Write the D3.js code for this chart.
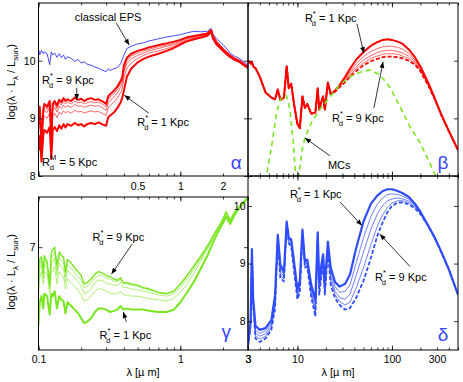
<!DOCTYPE html>
<html><head><meta charset="utf-8">
<script src="https://cdn.jsdelivr.net/npm/d3@7"></script>
<style>body{margin:0;background:#fff}svg{display:block}text{font-family:"Liberation Sans",Arial,sans-serif}</style>
</head><body><svg id="c" width="463" height="382"></svg>
<script>
// ---------------- DATA ----------------
const optWl = [0.100,0.102,0.105,0.108,0.110,0.115,0.120,0.123,0.126,0.130,0.135,0.140,0.145,0.150,0.155,0.160,0.170,0.180,0.190,0.200,0.210,0.220,0.235,0.250,0.265,0.280,0.300,0.310,0.320,0.340,0.360,0.380,0.390,0.400,0.420,0.450,0.500,0.550,0.600,0.700,0.800,0.900,1.00,1.10,1.25,1.40,1.55,1.65,1.70,1.80,2.00,2.10,2.25,2.40,2.60,2.80,3.00];
const epsClassic = [10.20,10.10,10.18,10.12,10.15,10.12,9.93,10.15,10.10,10.13, 10.06,10.12,10.05,10.10,10.02,10.07,10.04,9.99,10.02,9.96, 9.98,9.94,9.92,9.89,9.87,9.84,9.81,9.86,9.83,9.86, 9.88,9.95,10.02,10.10,10.21,10.25,10.29,10.31,10.34,10.38, 10.41,10.43,10.45,10.48,10.51,10.50,10.51,10.56,10.46,10.38, 10.28,10.22,10.13,10.08,10.04,9.98,9.92];
const alphaR1 = [8.45,8.70,8.25,8.70,8.80,8.75,8.85,8.30,8.80,8.85, 8.78,8.88,8.82,8.90,8.84,8.90,8.87,8.92,8.88,8.90, 8.86,8.90,8.92,8.90,8.93,8.90,8.87,9.02,9.05,9.10, 9.18,9.28,9.36,9.48,9.72,9.86,9.97,10.03,10.07,10.12, 10.17,10.22,10.28,10.33,10.37,10.40,10.43,10.50,10.38,10.28, 10.17,10.12,10.06,10.02,9.98,9.92,9.87];
const alphaR3 = [8.70,9.00,8.42,8.95,9.04,9.00,9.09,8.50,9.04,9.09, 9.01,9.11,9.07,9.13,9.09,9.12,9.09,9.14,9.11,9.12, 9.09,9.11,9.13,9.11,9.12,9.09,9.05,9.18,9.22,9.28, 9.35,9.45,9.52,9.70,9.87,9.96,10.04,10.09,10.13,10.17, 10.21,10.25,10.30,10.34,10.38,10.42,10.44,10.51,10.39,10.29, 10.18,10.13,10.07,10.03,9.98,9.92,9.88];
const alphaR5 = [8.80,9.10,8.50,9.05,9.14,9.10,9.19,8.60,9.14,9.19, 9.11,9.21,9.17,9.23,9.19,9.22,9.19,9.24,9.21,9.22, 9.19,9.21,9.23,9.21,9.22,9.19,9.14,9.27,9.31,9.37, 9.44,9.54,9.61,9.80,9.95,10.03,10.09,10.13,10.17,10.21, 10.25,10.28,10.32,10.36,10.40,10.43,10.45,10.52,10.40,10.30, 10.19,10.13,10.07,10.03,9.99,9.93,9.88];
const alphaR7 = [8.85,9.15,8.55,9.10,9.20,9.15,9.25,8.65,9.20,9.25, 9.17,9.27,9.23,9.29,9.25,9.28,9.25,9.30,9.27,9.28, 9.25,9.27,9.29,9.27,9.28,9.25,9.20,9.33,9.37,9.43, 9.50,9.60,9.67,9.86,10.00,10.08,10.13,10.17,10.20,10.24, 10.27,10.30,10.34,10.38,10.41,10.44,10.46,10.52,10.41,10.31, 10.19,10.14,10.08,10.04,9.99,9.93,9.89];
const alphaR9 = [8.90,9.20,8.60,9.15,9.25,9.20,9.30,8.70,9.25,9.30, 9.22,9.32,9.28,9.35,9.30,9.33,9.30,9.36,9.32,9.34, 9.30,9.33,9.35,9.32,9.33,9.30,9.25,9.38,9.42,9.48, 9.55,9.65,9.72,9.92,10.05,10.12,10.17,10.20,10.23,10.27, 10.30,10.33,10.36,10.40,10.43,10.45,10.47,10.53,10.42,10.32, 10.20,10.15,10.09,10.04,10.00,9.94,9.89];

const gammaR1 = [6.36,6.55,6.60,6.50,6.62,6.60,6.45,6.62,6.60,6.64, 6.50,6.60,6.57,6.56,6.46,6.55,6.52,6.49,6.46,6.42, 6.38,6.39,6.42,6.47,6.50,6.50,6.49,6.48,6.47,6.48, 6.49,6.52,6.50,6.49,6.50,6.49,6.49,6.49,6.48,6.47, 6.47,6.49,6.55,6.62,6.72,6.83,6.93,7.00,7.04,7.10, 7.20,7.25,7.19,7.26,7.32,7.36,7.41];
const gammaR3 = [6.60,6.75,6.80,6.70,6.80,6.78,6.62,6.80,6.80,6.84, 6.70,6.80,6.77,6.76,6.66,6.74,6.71,6.68,6.65,6.61, 6.56,6.57,6.60,6.64,6.66,6.66,6.64,6.63,6.62,6.62, 6.62,6.64,6.62,6.61,6.61,6.60,6.60,6.59,6.58,6.57, 6.56,6.58,6.63,6.69,6.79,6.89,6.98,7.04,7.07,7.12, 7.21,7.27,7.20,7.27,7.32,7.36,7.41];
const gammaR5 = [6.66,6.82,6.86,6.75,6.86,6.83,6.66,6.87,6.88,6.91, 6.77,6.87,6.84,6.83,6.72,6.81,6.78,6.75,6.72,6.68, 6.62,6.63,6.66,6.71,6.73,6.73,6.71,6.70,6.70,6.69, 6.69,6.71,6.68,6.67,6.67,6.66,6.65,6.64,6.63,6.61, 6.60,6.62,6.67,6.73,6.82,6.91,6.99,7.05,7.08,7.13, 7.22,7.28,7.21,7.27,7.33,7.37,7.41];
const gammaR7 = [6.71,6.86,6.89,6.78,6.90,6.86,6.68,6.91,6.93,6.96, 6.81,6.92,6.89,6.88,6.76,6.86,6.83,6.79,6.76,6.73, 6.67,6.68,6.71,6.75,6.77,6.77,6.75,6.74,6.74,6.72, 6.72,6.74,6.71,6.70,6.70,6.69,6.68,6.66,6.65,6.63, 6.62,6.64,6.69,6.75,6.84,6.92,7.00,7.06,7.09,7.14, 7.23,7.29,7.22,7.28,7.33,7.37,7.41];
const gammaR9 = [6.75,6.90,6.92,6.80,6.93,6.88,6.70,6.95,6.98,7.00, 6.85,6.96,6.93,6.92,6.80,6.90,6.87,6.83,6.80,6.77, 6.70,6.71,6.74,6.78,6.80,6.79,6.77,6.76,6.76,6.74, 6.73,6.75,6.72,6.71,6.71,6.70,6.69,6.67,6.66,6.63, 6.62,6.64,6.70,6.76,6.85,6.93,7.01,7.06,7.09,7.14, 7.23,7.29,7.22,7.28,7.33,7.37,7.41];

const irWl = [3.0,3.2,3.3,3.4,3.6,4.0,4.6,5.3,5.8,6.2,6.6,7.2,7.7,8.1,8.6,9.2,10.0,10.6,11.3,12.0,12.7,14.0,15.5,16.4,17.0,18.0,18.7,19.5,21.0,22.5,25,28,32,36,42,50,60,70,80,90,100,115,130,150,175,200,240,280,330,400,500];
const betaR1 = [10.00,9.95,9.98,9.90,9.87,9.72,9.45,9.36,9.33,9.50, 9.32,9.36,9.90,9.52,9.60,9.25,8.90,8.83,9.38,9.18, 9.25,9.08,9.10,9.52,9.15,9.30,9.38,9.15,9.62,9.42, 9.48,9.58,9.72,9.86,10.02,10.15,10.26,10.32,10.36,10.37, 10.36,10.33,10.29,10.20,10.06,9.90,9.63,9.37,9.08,8.78,8.45];
const betaR3 = [10.00,9.95,9.98,9.90,9.87,9.72,9.45,9.36,9.33,9.50, 9.32,9.36,9.90,9.52,9.60,9.25,8.90,8.83,9.38,9.18, 9.25,9.08,9.10,9.52,9.15,9.30,9.38,9.15,9.62,9.42, 9.48,9.57,9.69,9.81,9.95,10.07,10.16,10.21,10.24,10.25, 10.25,10.23,10.20,10.13,10.01,9.87,9.61,9.36,9.08,8.78,8.45];
const betaR5 = [10.00,9.95,9.98,9.90,9.87,9.72,9.45,9.36,9.33,9.50, 9.32,9.36,9.90,9.52,9.60,9.25,8.90,8.83,9.38,9.18, 9.25,9.08,9.10,9.52,9.15,9.30,9.38,9.15,9.62,9.42, 9.47,9.56,9.67,9.78,9.90,10.01,10.09,10.14,10.17,10.18, 10.18,10.16,10.13,10.08,9.98,9.85,9.60,9.36,9.08,8.78,8.45];
const betaR7 = [10.00,9.95,9.98,9.90,9.87,9.72,9.45,9.36,9.33,9.50, 9.32,9.36,9.90,9.52,9.60,9.25,8.90,8.83,9.38,9.18, 9.25,9.08,9.10,9.52,9.15,9.30,9.38,9.15,9.62,9.42, 9.47,9.55,9.65,9.75,9.86,9.96,10.04,10.08,10.11,10.12, 10.12,10.11,10.08,10.04,9.95,9.83,9.59,9.35,9.07,8.78,8.45];
const betaR9 = [10.00,9.95,9.98,9.90,9.87,9.72,9.45,9.36,9.33,9.50, 9.32,9.36,9.90,9.52,9.60,9.25,8.90,8.83,9.38,9.18, 9.25,9.08,9.10,9.52,9.15,9.30,9.38,9.15,9.62,9.42, 9.46,9.54,9.63,9.72,9.82,9.92,9.99,10.03,10.06,10.07, 10.07,10.06,10.04,10.00,9.93,9.82,9.58,9.35,9.07,8.78,8.45];
const mcWl = [4.3,4.7,5.4,6.0,6.5,7.0,7.6,8.0,8.4,9.0,9.6,10.0,10.4,11.2,12.0,14.0,17.0,22,28,36,46,59,75,95,122,156,200,250,290,330];
const mcVal = [7.6,8.0,8.57,9.09,9.3,9.38,9.4,9.3,9.1,8.62,8.0,7.6,8.02,8.45,8.66,8.92,9.14,9.37,9.58,9.72,9.8,9.84,9.75,9.54,9.2,8.85,8.57,8.23,8.0,7.7];

const deltaR1 = [7.60,8.00,9.25,8.40,7.92,7.85,7.88,8.02,8.45,9.50, 8.98,8.86,9.73,9.45,9.42,9.04,8.55,8.70,9.59,9.04, 9.07,8.63,8.37,9.54,8.69,9.00,9.16,8.63,9.38,8.93, 8.68,8.60,8.65,8.81,9.28,9.73,10.04,10.18,10.26,10.29, 10.29,10.26,10.22,10.16,10.04,9.90,9.67,9.47,9.22,8.90,8.46];
const deltaR3 = [7.58,7.97,9.23,8.35,7.84,7.79,7.83,7.97,8.38,9.48, 8.92,8.81,9.72,9.42,9.39,9.00,8.51,8.66,9.57,9.01, 9.04,8.58,8.30,9.52,8.63,8.95,9.12,8.58,9.34,8.86, 8.60,8.50,8.52,8.63,9.02,9.45,9.82,10.03,10.14,10.20, 10.21,10.20,10.17,10.12,10.02,9.89,9.67,9.47,9.22,8.90,8.46];
const deltaR5 = [7.57,7.96,9.22,8.32,7.79,7.74,7.78,7.93,8.32,9.46, 8.86,8.77,9.70,9.40,9.36,8.96,8.46,8.60,9.55,8.98, 9.01,8.52,8.22,9.50,8.57,8.89,9.07,8.53,9.29,8.77, 8.52,8.41,8.38,8.47,8.80,9.20,9.60,9.86,10.01,10.09, 10.12,10.14,10.12,10.09,10.00,9.88,9.66,9.46,9.21,8.90,8.46];
const deltaR7 = [7.56,7.95,9.21,8.30,7.74,7.69,7.74,7.89,8.27,9.44, 8.80,8.73,9.69,9.37,9.33,8.92,8.42,8.55,9.52,8.95, 8.98,8.47,8.15,9.47,8.51,8.84,9.02,8.49,9.25,8.70, 8.46,8.34,8.28,8.33,8.58,8.93,9.33,9.65,9.85,9.98, 10.05,10.09,10.09,10.06,9.98,9.87,9.66,9.46,9.21,8.90,8.46];
const deltaR9 = [7.55,7.94,9.20,8.28,7.70,7.64,7.70,7.85,8.22,9.42, 8.75,8.69,9.68,9.35,9.30,8.88,8.38,8.50,9.50,8.93, 8.95,8.42,8.08,9.45,8.46,8.80,8.98,8.46,9.21,8.63, 8.40,8.28,8.20,8.23,8.41,8.70,9.10,9.48,9.72,9.90, 10.00,10.06,10.06,10.03,9.96,9.86,9.66,9.46,9.21,8.90,8.46];

const alphaXLabels = [0.5, 1, 2];
const gammaXLabels = [0.1, 1, 3];
const deltaXLabels = [3, 10, 100, 300];
const alphaYLabels = [8, 9, 10];
const gammaYLabels = [7];
const deltaYLabels = [8, 9, 10];

// ---------------- DRAWING ----------------
const svg = d3.select("#c");
const defs = svg.append("defs");
defs.append("marker").attr("id","ah").attr("viewBox","0 0 10 10").attr("refX",10).attr("refY",5)
  .attr("markerUnits","userSpaceOnUse").attr("markerWidth",7).attr("markerHeight",6).attr("orient","auto")
  .append("path").attr("d","M0,1 L10,5 L0,9 z").attr("fill","#000");

const RED="#ff0000", EPSBLUE="#3636ff", GREEN="#78e61e", DBLUE="#2f4cff", GREEK="#3a46ff";

function makePanel(name, px, py, xd, yd) {
  const x = d3.scaleLog().domain(xd).range(px);
  const y = d3.scaleLinear().domain(yd).range(py);
  defs.append("clipPath").attr("id","clip-"+name).append("rect")
    .attr("x",px[0]).attr("y",py[1]).attr("width",px[1]-px[0]).attr("height",py[0]-py[1]);
  const g = svg.append("g");
  const plot = g.append("g").attr("clip-path","url(#clip-"+name+")");
  return {x,y,g,plot,px,py};
}
function series(P, wl, vals, c, w, dash) {
  P.plot.append("path").datum(d3.zip(wl, vals))
    .attr("d", d3.line().x(d=>P.x(d[0])).y(d=>P.y(d[1])))
    .attr("fill","none").attr("stroke",c).attr("stroke-width",w)
    .attr("stroke-linejoin","round").attr("stroke-dasharray",dash||null);
}
function frame(P, o) {
  const [x0,x1]=P.px, [y1,y0]=P.py;
  const g = P.g.append("g");
  const minor = P.x.ticks();
  const fmt = v => String(v);
  function ax(gen, tr, vals, size, labels, pad) {
    const a = g.append("g").attr("transform",tr)
      .call(gen.tickValues(vals).tickSize(size).tickPadding(pad||3)
        .tickFormat(d => labels && labels.includes(+d.toPrecision(6)) ? fmt(+d.toPrecision(6)) : ""));
    a.select(".domain").remove();
    a.selectAll("line").attr("stroke","#000").attr("stroke-width",0.8);
    a.selectAll("text").attr("font-size",10.5).attr("font-family","Liberation Sans, Arial, sans-serif").attr("fill","#000");
    return a;
  }
  const dec = minor.filter(v => Math.abs(Math.log10(v) - Math.round(Math.log10(v))) < 1e-6);
  ax(d3.axisBottom(P.x), `translate(0,${y1})`, minor, -2.5, o.xLabels, o.xPad);
  ax(d3.axisBottom(P.x), `translate(0,${y1})`, dec, -4.5, null);
  ax(d3.axisTop(P.x), `translate(0,${y0})`, minor, -2.5, null);
  ax(d3.axisTop(P.x), `translate(0,${y0})`, dec, -4.5, null);
  ax(d3.axisLeft(P.y), `translate(${x0},0)`, o.yTicks, -4, o.yLabels, o.yPad);
  ax(d3.axisRight(P.y), `translate(${x1},0)`, o.yTicks, -4, null);
  g.append("rect").attr("x",x0).attr("y",y0).attr("width",x1-x0).attr("height",y1-y0)
    .attr("fill","none").attr("stroke","#000").attr("stroke-width",1);
}
function rLabel(P, lx, ly, sup, rest) {
  const t = P.g.append("text").attr("x",P.x(lx)).attr("y",P.y(ly)).attr("font-size",11).attr("fill","#000");
  t.append("tspan").text("R");
  t.append("tspan").attr("font-size",7.5).attr("dy",-6).text(sup);
  t.append("tspan").attr("font-size",7.5).attr("dx", sup==="M" ? -6.5 : -4).attr("dy",10).text("d");
  t.append("tspan").attr("dy",-4).attr("dx", sup==="M" ? 2.6 : 0).text(" = " + rest);
}
function arrow(P, a, b) {
  P.g.append("line").attr("x1",P.x(a[0])).attr("y1",P.y(a[1])).attr("x2",P.x(b[0])).attr("y2",P.y(b[1]))
    .attr("stroke","#000").attr("stroke-width",0.8).attr("marker-end","url(#ah)");
}
function greek(P, lx, ly, ch) {
  P.g.append("text").attr("x",P.x(lx)).attr("y",P.y(ly)).attr("text-anchor","middle")
    .attr("font-family","Liberation Serif, serif").attr("font-size",19).attr("fill",GREEK).text(ch);
}

// Panel alpha
const A = makePanel("a", [38.5,248], [176,3], [0.1,3], [8,11]);
series(A, optWl, epsClassic, EPSBLUE, 0.9);
series(A, optWl, alphaR3, RED, 0.6);
series(A, optWl, alphaR5, RED, 0.6);
series(A, optWl, alphaR7, RED, 0.6);
series(A, optWl, alphaR1, RED, 2.0);
series(A, optWl, alphaR9, RED, 2.0);
frame(A, {xLabels: alphaXLabels, xPad: 7, yTicks: alphaYLabels, yLabels: alphaYLabels, yPad: 3});
A.g.append("text").attr("x",A.x(0.18)).attr("y",A.y(10.69)).attr("font-size",11).text("classical EPS");
arrow(A, [0.354,10.65], [0.436,10.27]);
rLabel(A, 0.106, 9.6, "*", "9 Kpc");
arrow(A, [0.186,9.53], [0.186,9.32]);
rLabel(A, 0.497, 8.87, "*", "1 Kpc");
arrow(A, [0.6,9.09], [0.403,9.4]);
rLabel(A, 0.106, 8.17, "M", "5 Kpc");
greek(A, 2.48, 8.12, "α");

// Panel beta
const B = makePanel("b", [248,458], [176,3], [3,500], [8,11]);
series(B, irWl, betaR3, RED, 0.6);
series(B, irWl, betaR5, RED, 0.6);
series(B, irWl, betaR7, RED, 0.6);
series(B, irWl, betaR9, RED, 1.8, "4,2");
series(B, irWl, betaR1, RED, 2.0);
series(B, mcWl, mcVal, GREEN, 1.6, "5,4");
frame(B, {xLabels: null, yTicks: alphaYLabels, yLabels: null});
rLabel(B, 12.0, 10.67, "*", "1 Kpc");
arrow(B, [42.6,10.64], [50.5,10.13]);
rLabel(B, 23.2, 8.94, "*", "9 Kpc");
arrow(B, [64.5,9.18], [80.5,9.98]);
B.g.append("text").attr("x",B.x(21.0)).attr("y",B.y(8.12)).attr("font-size",11).text("MCs");
arrow(B, [22.1,8.35], [12.0,8.66]);
greek(B, 347, 8.12, "β");

// Panel gamma
const G = makePanel("g", [38.5,248], [350,197], [0.1,3], [6.16,7.41]);
series(G, optWl, gammaR3, GREEN, 0.6);
series(G, optWl, gammaR5, GREEN, 0.6);
series(G, optWl, gammaR7, GREEN, 0.6);
series(G, optWl, gammaR9, GREEN, 1.4);
series(G, optWl, gammaR1, GREEN, 2.0);
frame(G, {xLabels: gammaXLabels, xPad: 5.5, yTicks: gammaYLabels, yLabels: gammaYLabels, yPad: 3});
rLabel(G, 0.24, 7.05, "*", "9 Kpc");
arrow(G, [0.458,7.026], [0.327,6.78]);
rLabel(G, 0.269, 6.25, "*", "1 Kpc");
arrow(G, [0.416,6.39], [0.396,6.47]);
greek(G, 2.11, 6.26, "γ");

// Panel delta
const D = makePanel("d", [248,458], [350,176], [3,500], [7.5,10.52]);
series(D, irWl, deltaR3, DBLUE, 0.7);
series(D, irWl, deltaR5, DBLUE, 0.7);
series(D, irWl, deltaR7, DBLUE, 0.7);
series(D, irWl, deltaR9, DBLUE, 1.8, "4,2");
series(D, irWl, deltaR1, DBLUE, 2.2);
frame(D, {xLabels: deltaXLabels, xPad: 5.5, yTicks: deltaYLabels, yLabels: deltaYLabels, yPad: 2.5});
rLabel(D, 8.33, 10.14, "*", "1 Kpc");
arrow(D, [28.2,10.07], [48.2,9.66]);
rLabel(D, 66.1, 8.70, "*", "9 Kpc");
arrow(D, [155,8.95], [74.6,9.51]);
greek(D, 347, 7.66, "δ");

// Axis titles
function yTitle(cx, cy) {
  const t = svg.append("text").attr("transform",`translate(${cx},${cy}) rotate(-90)`)
    .attr("text-anchor","middle").attr("font-size",11).attr("fill","#000");
  t.append("tspan").text("log(λ · L");
  t.append("tspan").attr("font-size",8).attr("dy",3).text("λ");
  t.append("tspan").attr("dy",-3).text(" / L");
  t.append("tspan").attr("font-size",8).attr("dy",3).text("sun");
  t.append("tspan").attr("dy",-3).text(")");
}
yTitle(15, 82);
yTitle(15, 272);
svg.append("text").attr("x",143).attr("y",376).attr("text-anchor","middle").attr("font-size",11).text("λ [µ m]");
svg.append("text").attr("x",338).attr("y",376).attr("text-anchor","middle").attr("font-size",11).text("λ [µ m]");
</script></body></html>
